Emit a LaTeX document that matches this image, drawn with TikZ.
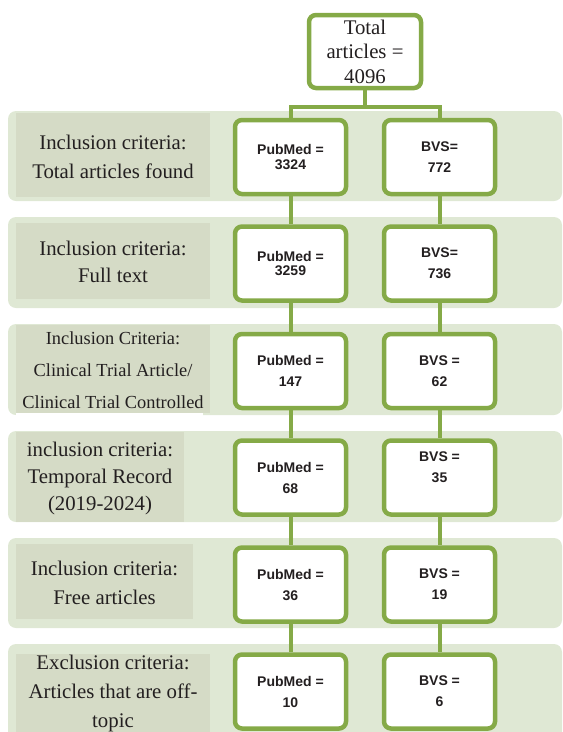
\documentclass[tikz,border=0pt]{standalone}
\usepackage{fontspec}
\setmainfont{Liberation Serif}
\newfontfamily\arialish{Liberation Sans}
\definecolor{bandc}{HTML}{DFE8D4}
\definecolor{labc}{HTML}{D5DBC6}
\definecolor{grn}{HTML}{85AA47}
\definecolor{ink}{HTML}{231F20}
\tikzset{
  band/.style={fill=bandc, rounded corners=8pt},
  labbox/.style={fill=labc},
  box/.style={draw=grn, line width=4.5pt, fill=white, rounded corners=7pt,
    minimum width=111pt, minimum height=74pt, inner sep=0pt},
  conn/.style={draw=grn, line width=4pt},
  btxt/.style={font={\fontsize{14}{21}\selectfont\arialish\bfseries}, align=center, text=ink, inner sep=0pt},
  btxttight/.style={font={\fontsize{14}{14.5}\selectfont\arialish\bfseries}, align=center, text=ink, inner sep=0pt},
  ltxt/.style={font={\fontsize{20.8}{29}\selectfont}, align=center, text=ink, inner sep=0pt},
}
\begin{document}
\begin{tikzpicture}[x=1pt,y=-1pt]
\useasboundingbox (0,0) rectangle (563,732);
\clip (0,0) rectangle (563,732);
% bands
\fill[band] (8,111) rectangle (562,201);
\fill[band] (8,217) rectangle (562,308);
\fill[band] (8,324) rectangle (562,415);
\fill[band] (8,431) rectangle (562,522);
\fill[band] (8,538) rectangle (562,628);
\fill[band] (8,644) rectangle (562,745);
% label boxes
\fill[labbox] (16,113) rectangle (210,197);
\fill[labbox] (16,223) rectangle (210,299);
\fill[labbox] (16,325) rectangle (210,413);
\fill[white] (16,413) rectangle (203,417);
\fill[labbox] (16,432) rectangle (184,522);
\fill[labbox] (16,544) rectangle (193,619);
\fill[labbox] (16,654) rectangle (210,745);
% label texts
\node[ltxt] (l1) at (113,156.5) {Inclusion criteria:\\Total articles found};
\node[ltxt, font={\fontsize{20.8}{27}\selectfont}] (l2) at (113,261.5) {Inclusion criteria:\\Full text};
\node[ltxt, font={\fontsize{18.4}{32}\selectfont}] (l3) at (113,370) {Inclusion Criteria:\\Clinical Trial Article/\\Clinical Trial Controlled};
\node[ltxt, font={\fontsize{20.8}{27}\selectfont}] (l4) at (100,478) {inclusion criteria:\\Temporal Record\\(2019-2024)};
\node[ltxt] (l5) at (104.5,582.5) {Inclusion criteria:\\Free articles};
\node[ltxt] (l6) at (113,693) {Exclusion criteria:\\Articles that are off-\\topic};
% total box
\node[box, minimum width=112pt, minimum height=73pt, align=center, text=ink,
  font={\fontsize{20.8}{24.5}\selectfont}] (tot) at (365,51.5) {Total\\articles =\\4096};
% boxes
\node[box] (p1) at (290.5,157) {};
\node[box] (b1) at (439.5,157) {};
\node[box] (p2) at (290.5,263.5) {};
\node[box] (b2) at (439.5,263.5) {};
\node[box] (p3) at (290.5,371) {};
\node[box] (b3) at (439.5,371) {};
\node[box] (p4) at (290.5,477.5) {};
\node[box] (b4) at (439.5,477.5) {};
\node[box] (p5) at (290.5,584.5) {};
\node[box] (b5) at (439.5,584.5) {};
\node[box] (p6) at (290.5,691.5) {};
\node[box] (b6) at (439.5,691.5) {};
% connectors
\coordinate (split) at (365,107);
\draw[conn] (tot.south) -- (split);
\draw[conn] (split) -| (p1.north);
\draw[conn] (split) -| (b1.north);
\foreach \a/\b in {p1/p2,p2/p3,p3/p4,p4/p5,p5/p6,b1/b2,b2/b3,b3/b4,b4/b5,b5/b6}{
  \draw[conn] (\a.south) -- (\b.north);
}
% box texts
\node[btxttight] (tp1) at (p1) {PubMed =\\3324};
\node[btxt] (tb1) at (b1) {BVS=\\772};
\node[btxttight] (tp2) at (p2) {PubMed =\\3259};
\node[btxt] (tb2) at (b2) {BVS=\\736};
\node[btxt] (tp3) at (p3) {PubMed =\\147};
\node[btxt] (tb3) at (b3) {BVS =\\62};
\node[btxt] (tp4) at (p4) {PubMed =\\68};
\node[btxt] (tb4) at ([yshift=10pt]b4.center) {BVS =\\35};
\node[btxt] (tp5) at (p5) {PubMed =\\36};
\node[btxt] (tb5) at (b5) {BVS =\\19};
\node[btxt] (tp6) at (p6) {PubMed =\\10};
\node[btxt] (tb6) at (b6) {BVS =\\6};
\end{tikzpicture}
\end{document}
